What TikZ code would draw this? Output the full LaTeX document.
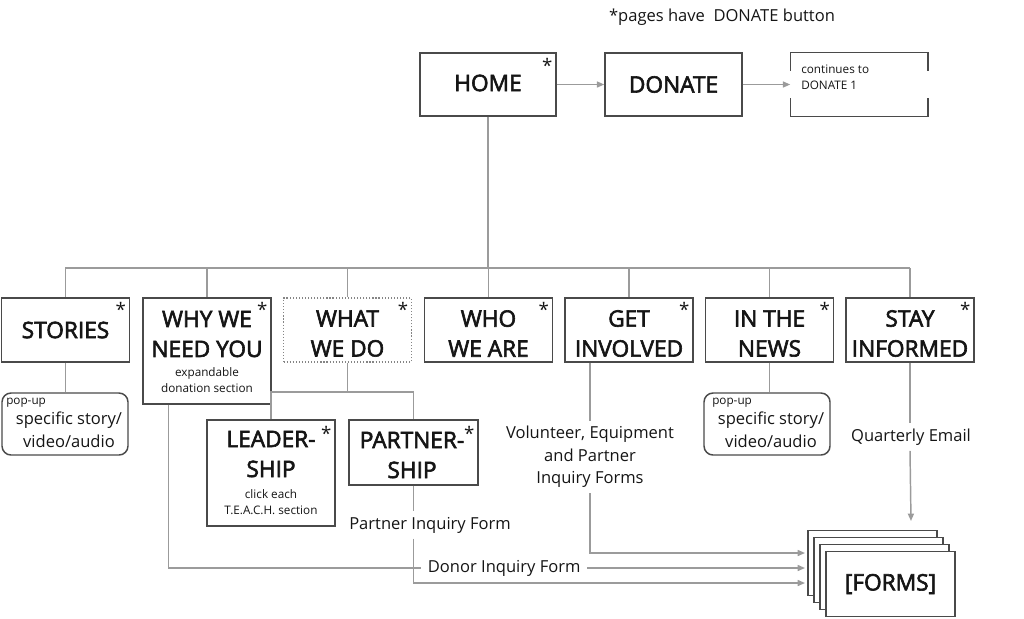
\documentclass[tikz,border=0pt]{standalone}
\usepackage{fontspec}
\setmainfont{Open Sans}
\usetikzlibrary{arrows.meta,calc}
\definecolor{boxc}{HTML}{4A4A4A}
\definecolor{linec}{HTML}{9B9B9B}
\definecolor{dotc}{HTML}{858585}
\definecolor{txt}{HTML}{151515}
\newcommand\pxu{0.75pt}
\newcommand\fTitle{\fontsize{17}{22.5}\selectfont}
\newcommand\fAst{\fontsize{14}{15}\selectfont}
\newcommand\fSmall{\fontsize{8.8}{12}\selectfont}
\newcommand\fLabel{\fontsize{12.4}{16.9}\selectfont}
\newcommand\thickon{\special{pdf:literal q 2 Tr 0.45 w}}
\newcommand\thickoff{\special{pdf:literal Q}}
\tikzset{
  heavy/.style={execute at begin node=\thickon, execute at end node=\thickoff},
  box/.style={draw=boxc, line width=1.1pt, fill=white, minimum width=128*\pxu, minimum height=64*\pxu, inner sep=0pt, text=txt, font=\fTitle, align=center},
  tallbox/.style={box, minimum height=106*\pxu},
  dotbox/.style={box, draw=dotc, line width=1.4pt, dash pattern=on 0.9pt off 1.4pt},
  popbox/.style={draw=boxc, line width=1.1pt, rounded corners=9*\pxu, minimum width=126*\pxu, minimum height=62*\pxu, inner sep=0pt},
  boxline/.style={draw=boxc, line width=1.1pt},
  ttl/.style={text=txt, font=\fTitle, align=center, inner sep=0pt, heavy},
  sml/.style={text=txt, font=\fSmall, align=center, inner sep=0pt},
  lbl/.style={text=txt, font=\fLabel, align=center, inner sep=4pt},
  ast/.style={text=txt, font=\fAst, inner sep=0pt, anchor=north east},
  conn/.style={draw=linec, line width=1.1pt},
  arr/.style={conn, -{Triangle[length=5.5pt,width=4.5pt]}},
}
\begin{document}
\begin{tikzpicture}[x=0.75pt,y=-0.75pt]
\useasboundingbox (0,0) rectangle (1024,618);

% top note
\node[lbl, inner sep=0pt] (note) at (722,17) {*pages have\ \ DONATE button};

% top row
\node[box, minimum width=136*\pxu, minimum height=63*\pxu] (home) at (488,84.5) {};
\node[ttl] (homet) at (488,83) {HOME};
\node[ast] (ahome) at ($(home.north east)+(-4,6)$) {*};
\node[box, minimum width=137*\pxu, minimum height=63*\pxu] (donate) at (673.5,84.5) {};
\node[ttl] (donatet) at (673.5,84.5) {DONATE};
\node[minimum width=137*\pxu, minimum height=63*\pxu, inner sep=0pt] (cont) at (859,84.5) {};
\draw[boxline] ($(cont.north west)+(0,18)$) -- (cont.north west) -- (cont.north east) -- ++(0,18);
\draw[boxline] ($(cont.south west)+(0,-18)$) -- (cont.south west) -- (cont.south east) -- ++(0,-18);
\node[sml, anchor=west, align=left] (conttext) at (801,77) {continues to\\DONATE 1};
\draw[arr] (home.east) -- (donate.west);
\draw[arr] (donate.east) -- (cont.west);

% bus
\coordinate (busL) at (65,268);
\coordinate (busR) at (910,268);
\draw[conn] (home.south) -- (home.south |- busL);
\draw[conn] (busL) -- (busR);

% second row
\node[box] (stories) at (65.5,330) {};
\node[ttl] (storiest) at (65.5,330) {STORIES};
\node[tallbox] (why) at (207,351) {};
\node[ttl] (whyt) at (207,334) {WHY WE\\NEED YOU};
\node[sml] (whys) at (207,380) {expandable\\donation section};
\node[dotbox] (what) at (347.5,330) {};
\node[box] (who) at (488.5,330) {};
\node[box] (get) at (629,330) {};
\node[box] (news) at (769.5,330) {};
\node[box] (stay) at (910,330) {};
\foreach \n/\t in {what/{WHAT\\WE DO},who/{WHO\\WE ARE},get/{GET\\INVOLVED},news/{IN THE\\NEWS},stay/{STAY\\INFORMED}}{
  \node[ttl] (\n t) at ($(\n.center)+(0,3.5)$) {\t};
}

\foreach \n in {stories,why,what,who,get,news,stay}{
  \draw[conn] (\n.north |- busL) -- (\n.north);
  \node[ast] (a\n) at ($(\n.north east)+(-4,5)$) {*};
}

% pop-ups
\node[popbox] (pop1) at (65,424) {};
\node[sml, anchor=west] (pop1a) at (6,403) {pop-up};
\node[lbl, inner sep=0pt] (pop1b) at (69,430) {specific story/\\video/audio};
\draw[conn] (stories.south) -- (stories.south |- pop1.north);

\node[popbox] (pop2) at (767,424) {};
\node[sml, anchor=west] (pop2a) at (712,403) {pop-up};
\node[lbl, inner sep=0pt] (pop2b) at (771,430) {specific story/\\video/audio};
\draw[conn] (news.south) -- (news.south |- pop2.north);

% third row
\coordinate (wdj) at (348,392);
\node[tallbox] (leader) at (271,473) {};
\node[ttl] (leadert) at (271,454) {LEADER-\\SHIP};
\node[sml] (leaders) at (271,502.5) {click each\\T.E.A.C.H. section};
\node[box, minimum width=129*\pxu, minimum height=65*\pxu] (partner) at (413.5,452.5) {};
\node[ttl] (partnert) at (412,455) {PARTNER-\\SHIP};
\foreach \n in {leader,partner}{
  \node[ast] (a\n) at ($(\n.north east)+(-4,7)$) {*};
}
\draw[conn] (what.south) -- (what.south |- wdj);
\draw[conn] (leader.north) |- (partner.north |- wdj) -- (partner.north);

% forms stack
\node[box, minimum width=129*\pxu, minimum height=65*\pxu] (f1) at (872.5,563) {};
\node[box, minimum width=129*\pxu, minimum height=65*\pxu] (f2) at (878.5,570) {};
\node[box, minimum width=129*\pxu, minimum height=65*\pxu] (f3) at (884.5,577) {};
\node[box, minimum width=129*\pxu, minimum height=65*\pxu] (f4) at (890.5,584) {};
\node[ttl] (f4t) at (890.5,584) {[FORMS]};

\coordinate (fa1) at (805,553);
\coordinate (fa2) at (805,568);
\coordinate (fa3) at (805,583);
\coordinate (fa4) at (911,521);

% labels and form connectors
\node[lbl] (vol) at (590,457) {Volunteer, Equipment\\and Partner\\Inquiry Forms};
\draw[conn] (get.south -| vol.north) -- (vol.north);
\draw[arr] (vol.south) |- (fa1);

\node[lbl] (qe) at (911,437) {Quarterly Email};
\draw[conn] (stay.south) -- (stay.south |- qe.north);
\draw[arr] (stay.south |- qe.south) -- (fa4);

\node[lbl] (pif) at (430,525) {Partner Inquiry Form};
\draw[conn] (partner.south) -- (partner.south |- pif.north);
\draw[arr] (partner.south |- pif.south) |- (fa3);

\coordinate (wyl) at ($(why.south west)+(26,0)$);
\node[lbl, anchor=west, inner xsep=5pt] (dif) at (421,568) {Donor Inquiry Form};
\draw[conn] (wyl) |- (dif.west);
\draw[arr] (dif.east) -- (fa2);
\end{tikzpicture}
\end{document}
